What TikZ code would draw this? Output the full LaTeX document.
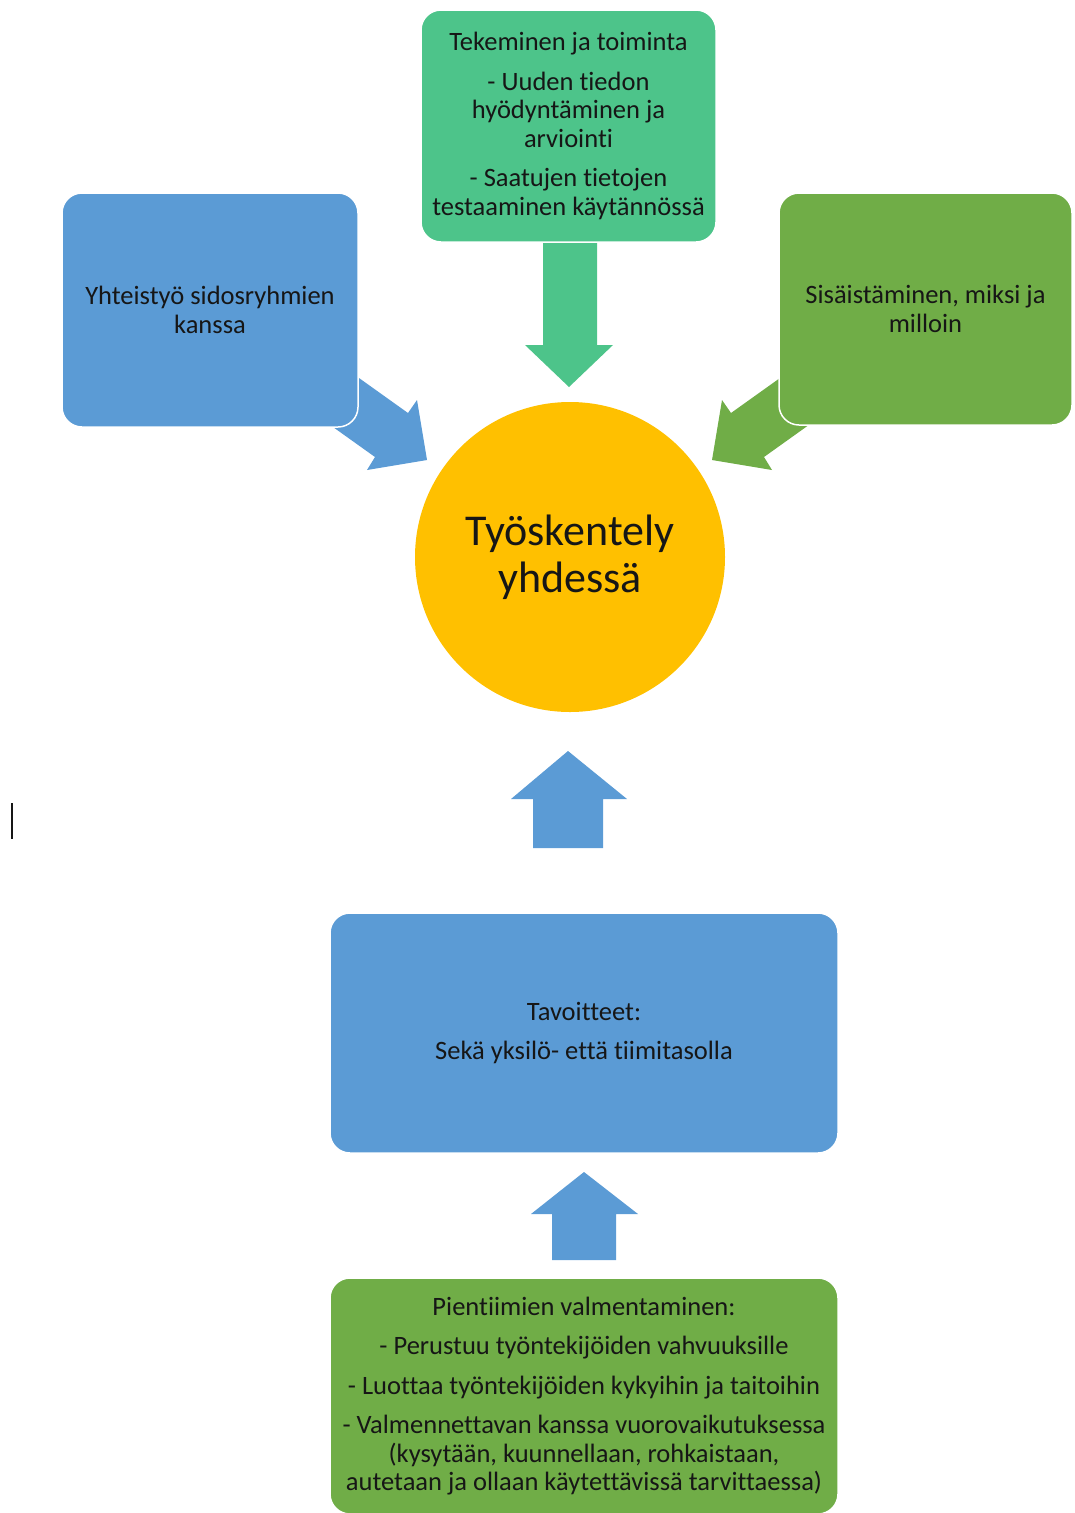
\documentclass[tikz,border=0pt]{standalone}
\usepackage{fontspec}
\setmainfont[Ligatures=NoCommon]{Carlito}
\definecolor{boxblue}{HTML}{5B9BD5}
\definecolor{boxteal}{HTML}{4DC48A}
\definecolor{boxgreen}{HTML}{70AD47}
\definecolor{hubyellow}{HTML}{FFC000}
\definecolor{ink}{HTML}{161616}
\tikzset{
  card/.style={draw=white, line width=1.5pt, rounded corners=20pt, align=center,
    inner sep=0pt, text=ink, font=\fontsize{26.5}{28.5}\selectfont},
}
\begin{document}
\begin{tikzpicture}[x=1pt,y=-1pt]
\useasboundingbox (0,0) rectangle (1074,1513);

% block arrows (drawn first so the boxes sit on top of their tails)
\fill[boxteal] (543,230) -- (597,230) -- (597,345) -- (613,345) -- (569,387)
  -- (525,345) -- (543,345) -- cycle;
\fill[boxblue] (310,343) -- (408,413) -- (417,400) -- (427,460) -- (367,470)
  -- (375,457) -- (277,387) -- cycle;
\fill[boxgreen] (829,343) -- (731,413) -- (722,400) -- (712,460) -- (772,470)
  -- (764,457) -- (862,387) -- cycle;
\fill[boxblue] (533,848) -- (533,799) -- (511,799) -- (568,751) -- (627,799)
  -- (603,799) -- (603,848) -- cycle;
\fill[boxblue] (552,1260) -- (552,1214) -- (531,1214) -- (584,1172) -- (638,1214)
  -- (616,1214) -- (616,1260) -- cycle;

% boxes
\node[card, fill=boxteal, minimum width=295pt, minimum height=232pt] (top) at (568.5,126)
  {Tekeminen ja toiminta\\[11pt]
   - Uuden tiedon\\ hyödyntäminen ja\\ arviointi\\[11pt]
   - Saatujen tietojen\\ testaaminen käytännössä};
\node[card, fill=boxblue, minimum width=296pt, minimum height=234pt] (left) at (210,310)
  {Yhteistyö sidosryhmien\\ kanssa};
\node[card, fill=boxgreen, minimum width=293pt, minimum height=232pt] (right) at (925.5,309)
  {Sisäistäminen, miksi ja\\ milloin};
\node[circle, fill=hubyellow, minimum size=310pt, inner sep=0pt, align=center, text=ink,
  font=\fontsize{44}{47}\selectfont] (hub) at (570,557) {Työskentely\\ yhdessä};
\node[card, fill=boxblue, minimum width=508pt, minimum height=240pt] (goals) at (584,1033)
  {Tavoitteet:\\[11pt] Sekä yksilö- että tiimitasolla};
\node[card, fill=boxgreen, minimum width=508pt, minimum height=236pt] (coach) at (584,1396)
  {Pientiimien valmentaminen:\\[11pt]
   - Perustuu työntekijöiden vahvuuksille\\[11pt]
   - Luottaa työntekijöiden kykyihin ja taitoihin\\[11pt]
   - Valmennettavan kanssa vuorovaikutuksessa\\
   (kysytään, kuunnellaan, rohkaistaan,\\
   autetaan ja ollaan käytettävissä tarvittaessa)};

% text cursor
\draw[line width=2pt, ink] (12,803) -- (12,839);
\end{tikzpicture}
\end{document}
